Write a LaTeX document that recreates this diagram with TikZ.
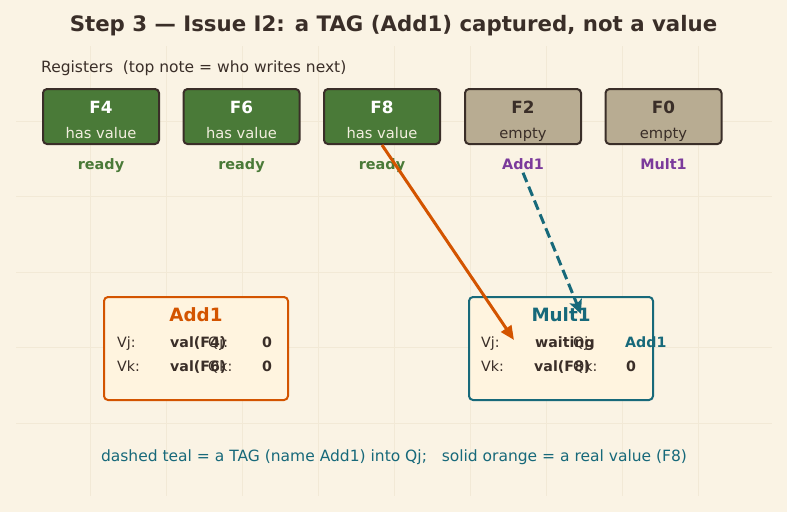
\documentclass[tikz,border=0pt]{standalone}
\usepackage{fontspec}
\setmainfont{DejaVu Sans}
\usetikzlibrary{arrows.meta}
\definecolor{bgc}{HTML}{FAF3E4}
\definecolor{gridc}{HTML}{F2E9D6}
\definecolor{darkc}{HTML}{3A2E28}
\definecolor{greenfill}{HTML}{4A7A38}
\definecolor{grayfill}{HTML}{B8AC92}
\definecolor{readyc}{HTML}{4A7A38}
\definecolor{purplec}{HTML}{7B3A9B}
\definecolor{orangec}{HTML}{D35400}
\definecolor{tealc}{HTML}{17697A}
\definecolor{stationfill}{HTML}{FFF4DF}
\definecolor{lightc}{HTML}{F2EEDF}
\definecolor{emptytxt}{HTML}{3A2E28}
\tikzset{
  regbox/.style={draw=darkc, line width=2pt, rounded corners=4pt, minimum width=116pt, minimum height=55pt, inner sep=0pt},
  regname/.style={anchor=base, font=\fontsize{16.8}{18}\selectfont\bfseries},
  regstate/.style={anchor=base, font=\fontsize{14.7}{16}\selectfont},
  regtag/.style={anchor=base, font=\fontsize{14.4}{16}\selectfont\bfseries},
  stbox/.style={line width=2pt, rounded corners=4pt, minimum width=184pt, minimum height=103pt, inner sep=0pt, fill=stationfill},
  sttitle/.style={anchor=base, font=\fontsize{18.3}{20}\selectfont\bfseries},
  stlbl/.style={anchor=base west, font=\fontsize{14.2}{16}\selectfont, text=darkc, inner sep=0pt},
  stval/.style={anchor=base west, font=\fontsize{14.2}{16}\selectfont\bfseries, text=darkc, inner sep=0pt},
  valarrow/.style={draw=orangec, line width=3pt, -{Triangle[length=14pt,width=12pt]}},
  tagarrow/.style={draw=tealc, line width=3pt, dash pattern=on 10pt off 5pt, -{Stealth[length=14pt,width=13pt,inset=3pt]}}
}
\begin{document}
\begin{tikzpicture}[x=1pt,y=-1pt]
\useasboundingbox (0,0) rectangle (787,512);
\fill[bgc] (0,0) rectangle (787,512);
% faint grid
\foreach \gx in {90,166,242,318,394,470,546,622,698} \draw[gridc, line width=0.7pt] (\gx,46) -- (\gx,496);
\foreach \gy in {121,196,272,347,423} \draw[gridc, line width=0.7pt] (16,\gy) -- (772,\gy);
% title
\node[anchor=base, font=\fontsize{21.3}{24}\selectfont\bfseries, text=darkc] (title) at (393.5,31) {Step 3 — Issue I2: a TAG (Add1) captured, not a value};
\node[anchor=base west, font=\fontsize{15.5}{18}\selectfont, text=darkc, inner sep=0pt] (reglbl) at (41,72.5) {Registers\ \ (top note = who writes next)};
% registers
\node[regbox, fill=greenfill] (F4) at (101,116.5) {};
\node[regbox, fill=greenfill] (F6) at (241.5,116.5) {};
\node[regbox, fill=greenfill] (F8) at (382,116.5) {};
\node[regbox, fill=grayfill] (F2) at (523,116.5) {};
\node[regbox, fill=grayfill] (F0) at (663.5,116.5) {};
\node[regname, text=white] (F4n) at (101,113) {F4};
\node[regname, text=white] (F6n) at (241.5,113) {F6};
\node[regname, text=white] (F8n) at (382,113) {F8};
\node[regname, text=darkc] (F2n) at (523,113) {F2};
\node[regname, text=darkc] (F0n) at (663.5,113) {F0};
\node[regstate, text=lightc] (F4s) at (101,138) {has value};
\node[regstate, text=lightc] (F6s) at (241.5,138) {has value};
\node[regstate, text=lightc] (F8s) at (382,138) {has value};
\node[regstate, text=emptytxt] (F2s) at (523,138) {empty};
\node[regstate, text=emptytxt] (F0s) at (663.5,138) {empty};
\node[regtag, text=readyc] (F4t) at (101,169) {ready};
\node[regtag, text=readyc] (F6t) at (241.5,169) {ready};
\node[regtag, text=readyc] (F8t) at (382,169) {ready};
\node[regtag, text=purplec] (F2t) at (523,169) {Add1};
\node[regtag, text=purplec] (F0t) at (663.5,169) {Mult1};
% stations
\node[stbox, draw=orangec] (add1) at (196,348.5) {};
\node[stbox, draw=tealc] (mult1) at (561,348.5) {};
\node[sttitle, text=orangec] (add1t) at (196,321) {Add1};
\node[sttitle, text=tealc] (mult1t) at (561,321) {Mult1};
% Add1 rows
\node[stlbl] (a1vj) at (117,347.5) {Vj:};
\node[stval] (a1vjv) at (170,347.5) {val(F4)};
\node[stlbl] (a1qj) at (208,347.5) {Qj:};
\node[stval] (a1qjv) at (262,347.5) {0};
\node[stlbl] (a1vk) at (117,371) {Vk:};
\node[stval] (a1vkv) at (170,371) {val(F6)};
\node[stlbl] (a1qk) at (208,371) {Qk:};
\node[stval] (a1qkv) at (262,371) {0};
% Mult1 rows
\node[stlbl] (m1vj) at (481,347.5) {Vj:};
\node[stval] (m1vjv) at (535,347.5) {waiting};
\node[stlbl] (m1qj) at (573,347.5) {Qj:};
\node[stval, text=tealc] (m1qjv) at (625,347.5) {Add1};
\node[stlbl] (m1vk) at (481,371) {Vk:};
\node[stval] (m1vkv) at (534,371) {val(F8)};
\node[stlbl] (m1qk) at (573,371) {Qk:};
\node[stval] (m1qkv) at (626,371) {0};
% arrows
\coordinate (vjin) at (514,340);
\coordinate (qjin) at (581,314);
\draw[valarrow] (F8.south) -- (vjin);
\draw[tagarrow] (F2t.south) -- (qjin);
% footer
\node[anchor=base, font=\fontsize{15.5}{18}\selectfont, text=tealc] (foot) at (394,461.5) {dashed teal = a TAG (name Add1) into Qj;\ \ \ solid orange = a real value (F8)};
\end{tikzpicture}
\end{document}
